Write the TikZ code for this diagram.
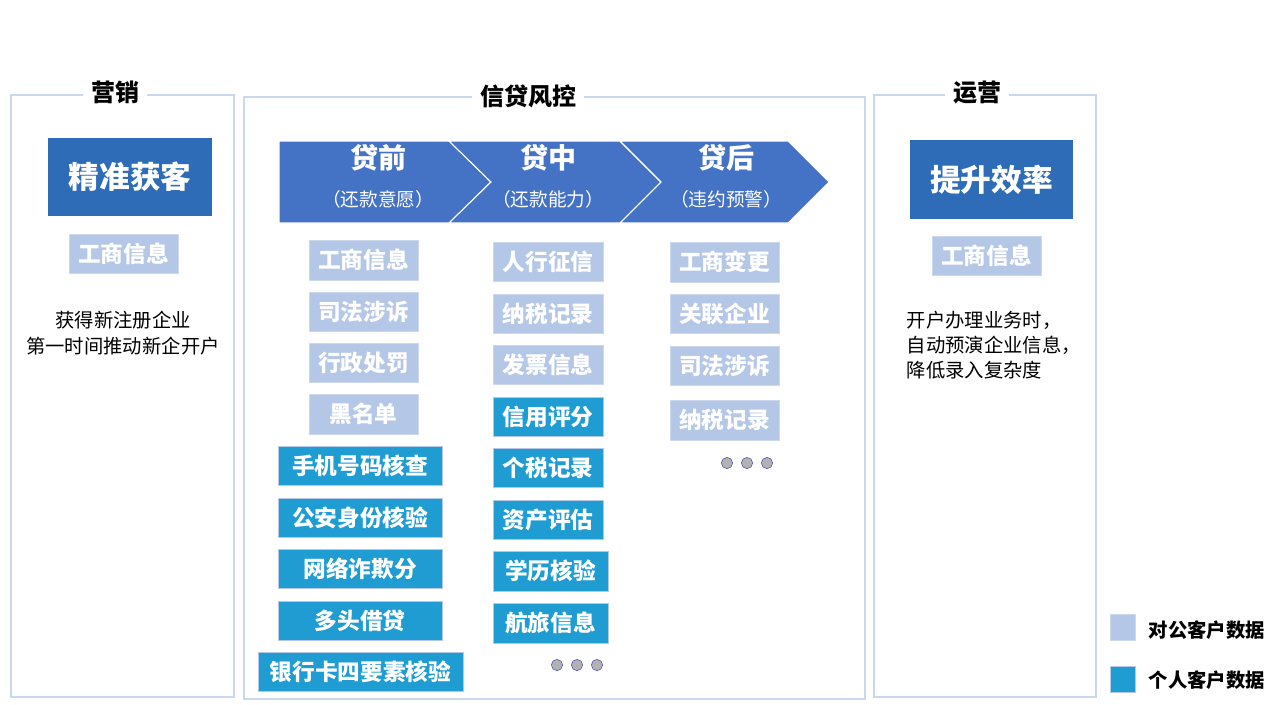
\documentclass[tikz,border=0pt]{standalone}
\usepackage{fontspec}
\setmainfont{Noto Sans CJK SC}
\begin{document}
\begin{tikzpicture}[x=0.75pt,y=-0.75pt,
  frame/.style={draw=framec,line width=1.3pt},
  ttl/.style={fill=white,font=\bfseries\fontsize{18}{21}\selectfont,inner xsep=6pt},
  lb/.style={fill=lightc,draw=lightc!70!white,inner sep=0,text=white,font=\bfseries\fontsize{17}{20}\selectfont},
  db/.style={fill=darkc,draw=lightc,inner sep=0,text=white,font=\bfseries\fontsize{17}{20}\selectfont},
  hb/.style={fill=headc,inner sep=0,text=white,font=\bfseries\fontsize{23}{27}\selectfont},
  chev/.style={fill=chevc,draw=white,line width=0.8pt},
  dot/.style={circle,fill=gray!60,draw=blue!40!gray,inner sep=0,minimum size=8.5pt},
  body/.style={font=\fontsize{14.5}{19}\selectfont,align=center}]
\definecolor{framec}{HTML}{C9D7EF}
\definecolor{lightc}{HTML}{B4C7E7}
\definecolor{darkc}{HTML}{1F9DD3}
\definecolor{headc}{HTML}{2E6CB8}
\definecolor{chevc}{HTML}{4472C4}
\newcommand\bx[7]{\node[#2, minimum width={(#5-#3)*0.75pt}, minimum height={(#6-#4)*0.75pt}] (#1) at ({(#3+#5)/2},{(#4+#6)/2}) {#7};}
\useasboundingbox (0,0) rectangle (1280,704);
% frames
\draw[frame] (11,95) rectangle (234,697);
\node[ttl] (t1) at (115,92) {营销};
\draw[frame] (244,97) rectangle (865,699);
\node[ttl] (t2) at (528,96) {信贷风控};
\draw[frame] (874,95) rectangle (1096,697);
\node[ttl] (t3) at (977,93) {运营};
% left
\bx{h1}{hb}{48}{138}{212}{216}{精准获客}
\bx{l0}{lb}{69}{234}{178}{273}{工商信息}
\node[body] (txt1) at (123,333) {获得新注册企业\\第一时间推动新企开户};
% right
\bx{h2}{hb}{910}{140}{1073}{219}{提升效率}
\bx{r0}{lb}{932}{236}{1041}{275}{工商信息}
\node[body,align=left,anchor=west] (txt2) at (902,345) {开户办理业务时，\\自动预演企业信息，\\降低录入复杂度};
% chevrons
\draw[chev] (279,141) -- (449,141) -- (491,182) -- (449,223) -- (279,223) -- cycle;
\draw[chev] (449,141) -- (620,141) -- (661,182) -- (620,223) -- (449,223) -- (491,182) -- cycle;
\draw[chev] (620,141) -- (788,141) -- (829,182) -- (788,223) -- (620,223) -- (661,182) -- cycle;
\foreach \n/\x/\a/\b in {c1/378/贷前/（还款意愿）,c2/548/贷中/（还款能力）,c3/726/贷后/（违约预警）}{
  \node[text=white,font=\bfseries\fontsize{21}{25}\selectfont] (\n a) at (\x,158) {\a};
  \node[text=white,font=\fontsize{14}{17}\selectfont] (\n b) at (\x,199) {\b};
}
% column 1
\bx{a1}{lb}{309}{240}{418}{280}{工商信息}
\bx{a2}{lb}{309}{292}{418}{331}{司法涉诉}
\bx{a3}{lb}{309}{343}{418}{382}{行政处罚}
\bx{a4}{lb}{309}{394}{418}{434}{黑名单}
\bx{a5}{db}{278}{446}{442}{485}{手机号码核查}
\bx{a6}{db}{278}{498}{442}{537}{公安身份核验}
\bx{a7}{db}{278}{549}{442}{588}{网络诈欺分}
\bx{a8}{db}{278}{601}{442}{640}{多头借贷}
\bx{a9}{db}{258}{652}{463}{691}{银行卡四要素核验}
% column 2
\bx{b1}{lb}{493}{242}{603}{281}{人行征信}
\bx{b2}{lb}{493}{294}{603}{333}{纳税记录}
\bx{b3}{lb}{493}{345}{603}{384}{发票信息}
\bx{b4}{db}{493}{397}{603}{436}{信用评分}
\bx{b5}{db}{493}{448}{603}{487}{个税记录}
\bx{b6}{db}{493}{500}{603}{539}{资产评估}
\bx{b7}{db}{493}{551}{608}{591}{学历核验}
\bx{b8}{db}{493}{603}{608}{643}{航旅信息}
\foreach \x [count=\i] in {557,577,597} \node[dot] (bd\i) at (\x,665) {};
% column 3
\bx{e1}{lb}{670}{242}{779}{282}{工商变更}
\bx{e2}{lb}{670}{294}{779}{333}{关联企业}
\bx{e3}{lb}{670}{346}{779}{385}{司法涉诉}
\bx{e4}{lb}{670}{400}{779}{440}{纳税记录}
\foreach \x [count=\i] in {727,747,767} \node[dot] (ed\i) at (\x,463) {};
% legend
\bx{k1}{lb}{1110}{614}{1135}{640}{}
\bx{k2}{db}{1110}{666}{1135}{692}{}
\node[anchor=west,font=\bfseries\fontsize{14.5}{17}\selectfont] (kt1) at (1144,630) {对公客户数据};
\node[anchor=west,font=\bfseries\fontsize{14.5}{17}\selectfont] (kt2) at (1144,680) {个人客户数据};
\end{tikzpicture}
\end{document}
